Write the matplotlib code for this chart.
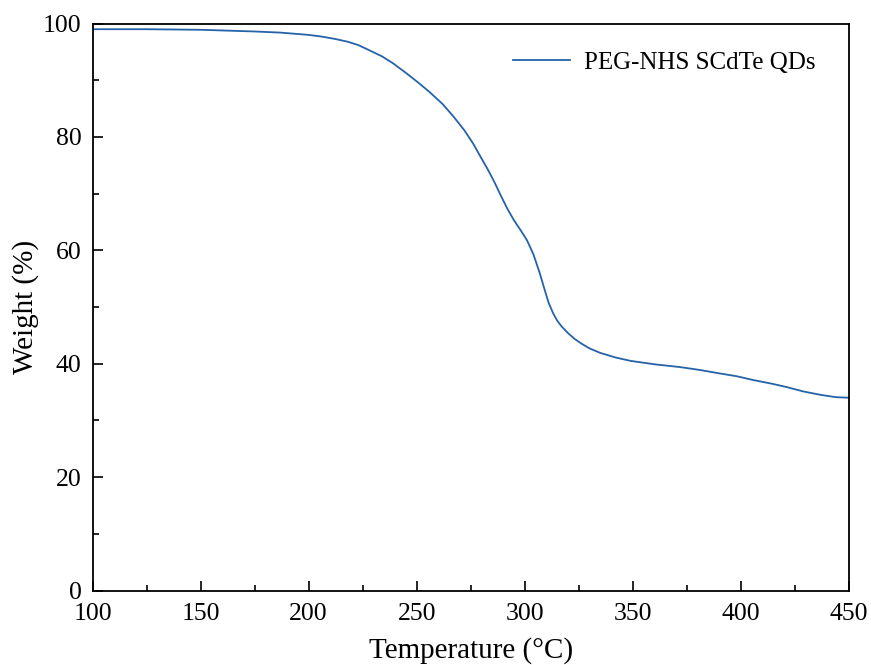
import matplotlib
matplotlib.use('Agg')
import matplotlib.pyplot as plt
from matplotlib.ticker import MultipleLocator

plt.rcParams['font.family'] = ['Liberation Serif', 'DejaVu Serif']

# TGA curve: temperature (°C) vs remaining weight (%)
temperature = [100, 125, 150, 175, 187, 200, 206, 212, 218, 223, 228, 234, 239, 245,
               251, 256, 262, 267, 272, 276, 280, 283, 286, 289, 292, 295, 298, 301,
               304, 307, 309, 311, 313, 315, 317, 320, 323, 326, 330, 335, 342, 349,
               360, 372, 381, 390, 398, 406, 414, 421, 429, 437, 444, 450]
weight = [99.0, 99.0, 98.9, 98.6, 98.4, 98.0, 97.7, 97.3, 96.8, 96.2, 95.3, 94.2, 93.0, 91.3,
          89.5, 87.9, 85.8, 83.6, 81.2, 78.9, 76.2, 74.2, 72.0, 69.6, 67.3, 65.3, 63.6, 61.8,
          59.3, 55.9, 53.3, 50.8, 49.0, 47.6, 46.6, 45.4, 44.4, 43.6, 42.7, 41.9, 41.1, 40.5,
          39.9, 39.4, 38.9, 38.3, 37.8, 37.1, 36.5, 35.9, 35.1, 34.5, 34.1, 34.0]

fig = plt.figure(figsize=(8.71, 6.65), dpi=100)
ax = fig.add_axes([0.1062, 0.112, 0.8685, 0.8526])

ax.plot(temperature, weight, color='#2562a8', lw=1.3, label='PEG-NHS SCdTe QDs')

ax.set_xlim(100, 450)
ax.set_ylim(0, 100)
ax.xaxis.set_major_locator(MultipleLocator(50))
ax.xaxis.set_minor_locator(MultipleLocator(25))
ax.yaxis.set_major_locator(MultipleLocator(20))
ax.yaxis.set_minor_locator(MultipleLocator(10))

ax.tick_params(which='both', direction='in', top=False, right=False, width=1.2,
               labelsize=18.5)
ax.tick_params(axis='x', which='major', length=7, pad=9)
ax.tick_params(axis='y', which='major', length=7, pad=8)
ax.tick_params(which='minor', length=4.5)
for s in ax.spines.values():
    s.set_linewidth(1.3)

ax.set_xlabel('Temperature (°C)', fontsize=21, labelpad=9)
ax.set_ylabel('Weight (%)', fontsize=21, labelpad=3)

ax.legend(loc='upper right', frameon=False, fontsize=18, handlelength=2.25,
          handletextpad=0.56, bbox_to_anchor=(0.985, 0.99))

fig.savefig('out.png', dpi=100)
